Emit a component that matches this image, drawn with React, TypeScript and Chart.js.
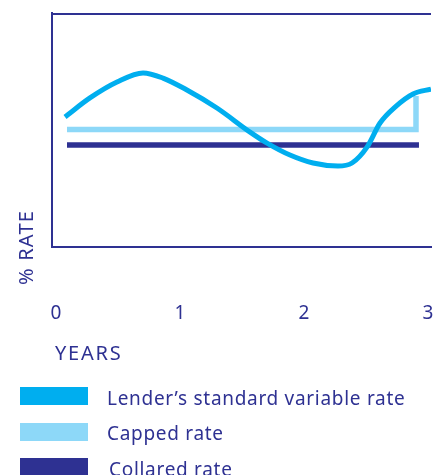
import React, { useEffect, useRef } from 'react';
import { Chart, registerables } from 'chart.js';

Chart.register(...registerables);

// ---- data ----
const variableYears = [0.073, 0.274, 0.492, 0.702, 0.863, 1.056, 1.298, 1.565, 1.702, 1.887, 2.073, 2.274, 2.387, 2.508, 2.613, 2.734, 2.879, 3.024];
const variableRates = [5.56, 6.37, 7.05, 7.44, 7.22, 6.71, 5.94, 4.91, 4.44, 3.93, 3.59, 3.46, 3.59, 4.27, 5.30, 5.98, 6.54, 6.75];
const cappedYears = [0.089, 2.903, 2.903];
const cappedRates = [5.02, 5.02, 6.45];
const collaredYears = [0.089, 2.927];
const collaredRates = [4.36, 4.36];
const xTickValues = [0, 1, 2, 3];
const seriesNames = ['Lender\u2019s standard variable rate', 'Capped rate', 'Collared rate'];
const seriesColors = ['#00aeef', '#8dd8f8', '#2e3192'];
const xAxisTitle = 'YEARS';
const yAxisTitle = '% RATE';

const NAVY = '#2e3192';
const FONT = '"Noto Sans", "Open Sans", sans-serif';

const toPoints = (xs: number[], ys: number[]) => xs.map((x, i) => ({ x, y: ys[i] }));

const extrasPlugin = {
  id: 'extras',
  afterDraw(chart: any) {
    const { ctx, chartArea } = chart;
    ctx.save();
    // top frame line
    ctx.strokeStyle = NAVY;
    ctx.lineWidth = 2;
    ctx.beginPath();
    ctx.moveTo(chartArea.left - 1, chartArea.top + 1);
    ctx.lineTo(chartArea.right, chartArea.top + 1);
    ctx.stroke();

    ctx.fillStyle = NAVY;
    ctx.textAlign = 'left';
    ctx.textBaseline = 'alphabetic';
    ctx.font = `20px ${FONT}`;
    (ctx as any).letterSpacing = '1.8px';
    ctx.fillText(xAxisTitle, 55, 360);

    (ctx as any).letterSpacing = '1.2px';
    ctx.save();
    ctx.translate(33, 285);
    ctx.rotate(-Math.PI / 2);
    ctx.fillText(yAxisTitle, 0, 0);
    ctx.restore();

    // legend
    const rows = [
      { top: 387, textX: 107, base: 405 },
      { top: 423, textX: 107, base: 440 },
      { top: 458, textX: 109, base: 476 },
    ];
    ctx.font = `19px ${FONT}`;
    (ctx as any).letterSpacing = '0.7px';
    rows.forEach((r, i) => {
      ctx.fillStyle = seriesColors[i];
      ctx.fillRect(20, r.top, 68, 18);
      ctx.fillStyle = NAVY;
      ctx.fillText(seriesNames[i], r.textX, r.base);
    });
    ctx.restore();
  },
};

export default function App() {
  const ref = useRef<HTMLCanvasElement | null>(null);

  useEffect(() => {
    if (!ref.current) return;
    const chart = new Chart(ref.current, {
      type: 'line',
      data: {
        datasets: [
          {
            label: seriesNames[0],
            data: toPoints(variableYears, variableRates),
            borderColor: seriesColors[0],
            borderWidth: 5,
            pointRadius: 0,
            tension: 0.4,
            cubicInterpolationMode: 'monotone',
            fill: false,
          },
          {
            label: seriesNames[1],
            data: toPoints(cappedYears, cappedRates),
            borderColor: seriesColors[1],
            borderWidth: 5.5,
            pointRadius: 0,
            tension: 0,
            borderJoinStyle: 'miter',
            fill: false,
          },
          {
            label: seriesNames[2],
            data: toPoints(collaredYears, collaredRates),
            borderColor: seriesColors[2],
            borderWidth: 5.5,
            pointRadius: 0,
            tension: 0,
            fill: false,
          },
        ],
      },
      options: {
        animation: false,
        responsive: false,
        layout: { padding: { left: 52, top: 13, right: 15, bottom: 0 } },
        plugins: { legend: { display: false }, tooltip: { enabled: false } },
        scales: {
          x: {
            type: 'linear',
            position: 'bottom',
            min: -0.032,
            max: 3.024,
            afterBuildTicks: (scale: any) => {
              scale.ticks = xTickValues.map((v) => ({ value: v }));
            },
            afterFit: (scale: any) => {
              scale.height = 228;
              scale.paddingLeft = 0;
              scale.paddingRight = 0;
            },
            grid: { display: false, drawTicks: true, tickLength: 55 },
            border: { display: true, color: NAVY, width: 2 },
            ticks: {
              color: NAVY,
              padding: 0,
              maxRotation: 0,
              autoSkip: false,
              font: { family: FONT, size: 19 },
              callback: (v: any) => String(v),
            },
          },
          y: {
            type: 'linear',
            min: 0,
            max: 10,
            afterFit: (scale: any) => {
              scale.width = 0;
            },
            grid: { display: false, drawTicks: false },
            border: { display: true, color: NAVY, width: 2 },
            ticks: { display: false },
          },
        },
      },
      plugins: [extrasPlugin],
    } as any);
    return () => chart.destroy();
  }, []);

  return (
    <div style={{ position: 'absolute', left: 0, top: 0, width: 446, height: 475 }}>
      <canvas ref={ref} width={446} height={475} style={{ display: 'block' }} />
    </div>
  );
}
